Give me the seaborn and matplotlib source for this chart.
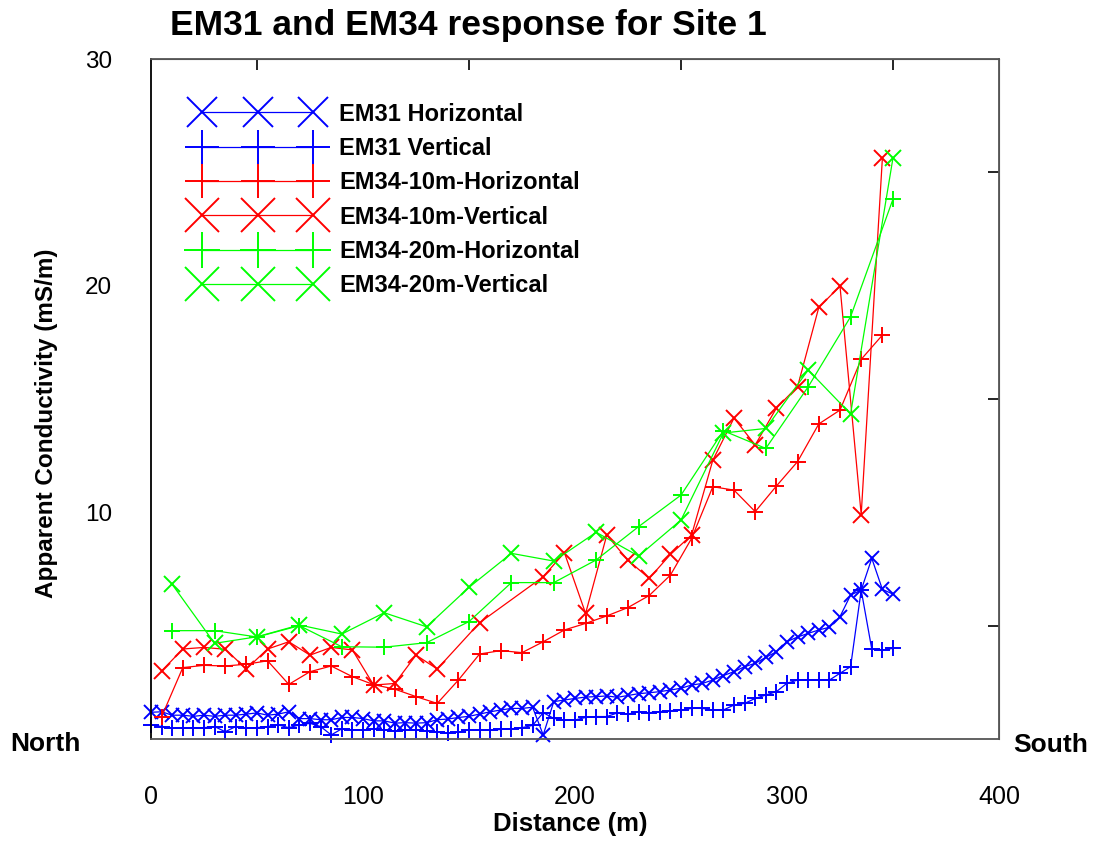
import matplotlib
matplotlib.use("Agg")
import matplotlib.pyplot as plt
import seaborn as sns
import numpy as np

# ---------------- data ----------------
em31_dist = list(range(0, 355, 5))
em31_h = [1.18, 1.20, 1.05, 1.05, 1.00, 1.05, 1.00, 1.05, 1.05, 1.10,
          1.15, 1.05, 1.10, 1.20, 0.90, 0.90, 0.85, 0.85, 0.95, 0.95,
          0.90, 0.80, 0.80, 0.70, 0.72, 0.70, 0.72, 0.85, 0.88, 0.95,
          1.00, 1.10, 1.20, 1.28, 1.35, 1.35, 1.40, 0.18, 1.65, 1.72,
          1.79, 1.85, 1.87, 1.90, 1.84, 1.92, 2.00, 2.04, 2.09, 2.16,
          2.24, 2.38, 2.45, 2.60, 2.80, 2.97, 3.19, 3.34, 3.60, 3.85,
          4.30, 4.50, 4.66, 4.81, 4.93, 5.40, 6.35, 6.57, 7.97, 6.60,
          6.39]
em31_v = [0.62, 0.55, 0.47, 0.47, 0.50, 0.50, 0.55, 0.32, 0.55, 0.47,
          0.50, 0.55, 0.62, 0.50, 0.62, 0.69, 0.55, 0.18, 0.45, 0.40,
          0.40, 0.45, 0.40, 0.35, 0.40, 0.40, 0.35, 0.30, 0.25, 0.30,
          0.40, 0.40, 0.40, 0.42, 0.45, 0.50, 0.60, 1.16, 0.91, 0.84,
          0.84, 0.95, 0.99, 0.99, 1.15, 1.10, 1.20, 1.16, 1.21, 1.25,
          1.28, 1.35, 1.35, 1.28, 1.28, 1.50, 1.57, 1.79, 1.94, 2.09,
          2.46, 2.60, 2.60, 2.60, 2.60, 2.90, 3.19, 6.57, 3.96, 3.92,
          4.00]

em34_10h_dist = list(range(5, 355, 10))
em34_10h = [0.98, 3.15, 3.25, 3.22, 3.30, 3.45, 2.41, 2.97, 3.22, 2.75,
            2.40, 2.20, 1.87, 1.57, 2.60, 3.75, 3.90, 3.81, 4.29, 4.81,
            5.10, 5.43, 5.80, 6.33, 7.23, 8.85, 11.13, 10.98, 10.03, 11.16,
            12.24, 13.90, 14.51, 16.75, 17.82]

em34_10v_dist = [5, 15, 25, 35, 45, 55, 65, 75, 85, 95, 105, 115, 125, 135,
                 155, 185, 195, 205, 215, 225, 235, 245, 255, 265, 275, 285,
                 295, 305, 315, 325, 335, 345]
em34_10v = [3.00, 3.97, 4.04, 3.96, 3.09, 3.97, 4.29, 3.70, 4.04, 3.93,
            2.38, 2.45, 3.70, 3.09, 5.13, 7.16, 8.22, 5.54, 9.00, 7.88,
            7.09, 8.14, 9.00, 12.30, 14.16, 12.97, 14.60, 15.55, 19.04, 19.98,
            9.90, 25.64]

em34_20_dist = list(range(10, 355, 20))
em34_20h = [4.78, 4.78, 4.50, 5.00, 4.07, 4.05, 4.25, 5.18, 6.90, 6.90,
            7.90, 9.37, 10.76, 13.60, 12.82, 15.54, 18.63, 23.82]
em34_20v = [6.82, 4.22, 4.51, 5.03, 4.63, 5.57, 4.95, 6.69, 8.19, 7.85,
            9.12, 8.07, 9.66, 13.50, 13.70, 16.28, 14.34, 25.64]

x_ticks = [0, 100, 200, 300, 400]
y_ticks = [0, 10, 20, 30]
y_tick_labels = ["", "10", "20", "30"]

# ---------------- style ----------------
sns.set_style("white")
plt.rcParams["font.family"] = ["Liberation Sans", "DejaVu Sans"]
plt.rcParams["text.color"] = "black"
plt.rcParams["axes.labelcolor"] = "black"
plt.rcParams["xtick.color"] = "black"
plt.rcParams["ytick.color"] = "black"

fig = plt.figure(figsize=(10.95, 8.42), dpi=100)
ax = fig.add_axes([151 / 1095, 1 - 739 / 842, 848 / 1095, 680 / 842])

BLUE, RED, GREEN = "#0000ff", "#ff0000", "#00ff00"
series = [
    ("EM31 Horizontal", em31_dist, em31_h, BLUE, "x", 10),
    ("EM31 Vertical", em31_dist, em31_v, BLUE, "+", 11),
    ("EM34-10m-Horizontal", em34_10h_dist, em34_10h, RED, "+", 11),
    ("EM34-10m-Vertical", em34_10v_dist, em34_10v, RED, "x", 11),
    ("EM34-20m-Horizontal", em34_20_dist, em34_20h, GREEN, "+", 12),
    ("EM34-20m-Vertical", em34_20_dist, em34_20v, GREEN, "x", 11),
]
for lab, xs, ys, c, m, ms in series:
    sns.lineplot(x=xs, y=ys, ax=ax, color=c, marker=m, markersize=ms,
                 markeredgewidth=1.4, markeredgecolor=c, linewidth=0.9,
                 label=lab, clip_on=False, estimator=None, sort=False)

ax.set_xlim(0, 400)
ax.set_ylim(0, 30)
ax.set_xticks(x_ticks)
ax.set_xticks([50, 150, 250, 350], minor=True)
ax.set_yticks(y_ticks)
ax.set_yticklabels(y_tick_labels)
ax.set_yticks([5, 15, 25], minor=True)
ax.tick_params(axis="both", which="both", direction="out", colors="black",
               width=1.2)
ax.tick_params(axis="y", which="both", length=8, pad=20, labelsize=17.5)
ax.tick_params(axis="x", which="both", length=10, pad=23, labelsize=18)

for side in ["left", "right", "top", "bottom"]:
    ax.spines[side].set_visible(True)
    ax.spines[side].set_linewidth(1.3)
ax.spines["left"].set_color("black")
for side in ["right", "top", "bottom"]:
    ax.spines[side].set_color("#555555")

secy = ax.secondary_yaxis("right")
secy.set_yticks([5, 15, 25])
secy.tick_params(direction="in", length=8, width=1.2, labelright=False)
secy.spines["right"].set_color("#555555")
secx = ax.secondary_xaxis("top")
secx.set_xticks([50, 150, 250, 350])
secx.tick_params(direction="in", length=8, width=1.2, labeltop=False)
secx.spines["top"].set_color("#555555")

ax.set_xlabel("Distance (m)", fontsize=18.5, fontweight="bold")
ax.set_ylabel("Apparent Conductivity (mS/m)", fontsize=17.5, fontweight="bold")
ax.xaxis.set_label_coords(0.494, -0.107)
ax.yaxis.set_label_coords(-0.110, 0.465)

fig.text(170 / 1095, 1 - 25 / 842, "EM31 and EM34 response for Site 1",
         fontsize=25.5, fontweight="bold", ha="left", va="center")
fig.text(10 / 1095, 1 - 744 / 842, "North", fontsize=19, fontweight="bold",
         ha="left", va="center")
fig.text(1013 / 1095, 1 - 745 / 842, "South", fontsize=19, fontweight="bold",
         ha="left", va="center")

leg = ax.legend(loc="upper left", bbox_to_anchor=(0.052, 0.936), frameon=False,
                prop={"weight": "bold", "size": 17},
                markerscale=2.2, numpoints=3, handlelength=5.3,
                handletextpad=0.8, labelspacing=0.48, borderpad=0,
                borderaxespad=0)

fig.savefig("out.png", dpi=100)
